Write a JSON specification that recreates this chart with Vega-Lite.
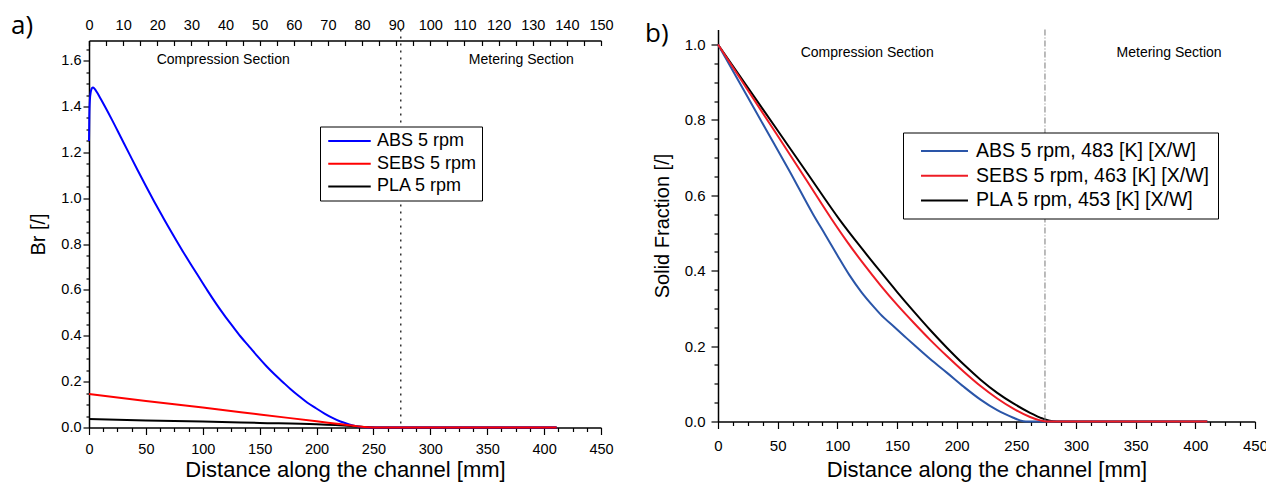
{
  "$schema": "https://vega.github.io/schema/vega-lite/v6.json",
  "padding": {"left": 11, "top": 12.5, "right": 0, "bottom": 14},
  "spacing": 31,
  "background": "white",
  "config": {
    "font": "Liberation Sans",
    "view": {"stroke": null},
    "text": {"font": "Liberation Sans"},
    "axis": {"grid": false, "domainColor": "black", "tickColor": "black", "labelColor": "black", "titleColor": "black", "labelFont": "Liberation Sans", "titleFont": "Liberation Sans", "titleFontWeight": "normal", "domainWidth": 1.5, "tickWidth": 1.2, "labelOverlap": false, "labelFlush": false},
    "legend": {"labelFont": "Liberation Sans", "labelColor": "black"}
  },
  "resolve": {"scale": {"color": "independent"}, "legend": {"color": "independent"}},
  "datasets": {
    "left": [
      {"d": 0, "v": 0.037, "s": "PLA 5 rpm"}, {"d": 50, "v": 0.031, "s": "PLA 5 rpm"}, {"d": 100, "v": 0.026, "s": "PLA 5 rpm"}, {"d": 150, "v": 0.02, "s": "PLA 5 rpm"}, {"d": 200, "v": 0.014, "s": "PLA 5 rpm"}, {"d": 230, "v": 0.007, "s": "PLA 5 rpm"}, {"d": 245, "v": 0.002, "s": "PLA 5 rpm"}, {"d": 255, "v": 0, "s": "PLA 5 rpm"}, {"d": 411, "v": 0, "s": "PLA 5 rpm"},
      {"d": 0, "v": 1.25, "s": "ABS 5 rpm"}, {"d": 0.3, "v": 1.36, "s": "ABS 5 rpm"}, {"d": 0.8, "v": 1.43, "s": "ABS 5 rpm"}, {"d": 1.6, "v": 1.465, "s": "ABS 5 rpm"}, {"d": 2.6, "v": 1.48, "s": "ABS 5 rpm"}, {"d": 3.5, "v": 1.483, "s": "ABS 5 rpm"}, {"d": 5, "v": 1.477, "s": "ABS 5 rpm"}, {"d": 7, "v": 1.462, "s": "ABS 5 rpm"}, {"d": 10, "v": 1.436, "s": "ABS 5 rpm"}, {"d": 14, "v": 1.4, "s": "ABS 5 rpm"}, {"d": 20, "v": 1.344, "s": "ABS 5 rpm"}, {"d": 28, "v": 1.266, "s": "ABS 5 rpm"}, {"d": 36, "v": 1.188, "s": "ABS 5 rpm"}, {"d": 43, "v": 1.12, "s": "ABS 5 rpm"}, {"d": 50, "v": 1.053, "s": "ABS 5 rpm"}, {"d": 57.5, "v": 0.984, "s": "ABS 5 rpm"}, {"d": 65, "v": 0.917, "s": "ABS 5 rpm"}, {"d": 70, "v": 0.873, "s": "ABS 5 rpm"}, {"d": 76, "v": 0.822, "s": "ABS 5 rpm"}, {"d": 82.5, "v": 0.768, "s": "ABS 5 rpm"}, {"d": 90, "v": 0.708, "s": "ABS 5 rpm"}, {"d": 97, "v": 0.653, "s": "ABS 5 rpm"}, {"d": 104, "v": 0.598, "s": "ABS 5 rpm"}, {"d": 112, "v": 0.538, "s": "ABS 5 rpm"}, {"d": 119, "v": 0.489, "s": "ABS 5 rpm"}, {"d": 126, "v": 0.443, "s": "ABS 5 rpm"}, {"d": 133, "v": 0.398, "s": "ABS 5 rpm"}, {"d": 141, "v": 0.352, "s": "ABS 5 rpm"}, {"d": 148, "v": 0.311, "s": "ABS 5 rpm"}, {"d": 156, "v": 0.267, "s": "ABS 5 rpm"}, {"d": 163, "v": 0.232, "s": "ABS 5 rpm"}, {"d": 170, "v": 0.2, "s": "ABS 5 rpm"}, {"d": 177, "v": 0.168, "s": "ABS 5 rpm"}, {"d": 185, "v": 0.135, "s": "ABS 5 rpm"}, {"d": 192, "v": 0.108, "s": "ABS 5 rpm"}, {"d": 199.5, "v": 0.084, "s": "ABS 5 rpm"}, {"d": 207, "v": 0.061, "s": "ABS 5 rpm"}, {"d": 214, "v": 0.042, "s": "ABS 5 rpm"}, {"d": 221, "v": 0.026, "s": "ABS 5 rpm"}, {"d": 228.7, "v": 0.0135, "s": "ABS 5 rpm"}, {"d": 234.6, "v": 0.006, "s": "ABS 5 rpm"}, {"d": 240, "v": 0.002, "s": "ABS 5 rpm"}, {"d": 246, "v": 0, "s": "ABS 5 rpm"}, {"d": 411, "v": 0, "s": "ABS 5 rpm"},
      {"d": 0, "v": 0.146, "s": "SEBS 5 rpm"}, {"d": 50, "v": 0.116, "s": "SEBS 5 rpm"}, {"d": 100, "v": 0.087, "s": "SEBS 5 rpm"}, {"d": 150, "v": 0.057, "s": "SEBS 5 rpm"}, {"d": 200, "v": 0.027, "s": "SEBS 5 rpm"}, {"d": 220, "v": 0.015, "s": "SEBS 5 rpm"}, {"d": 235, "v": 0.006, "s": "SEBS 5 rpm"}, {"d": 245, "v": 0.001, "s": "SEBS 5 rpm"}, {"d": 255, "v": 0, "s": "SEBS 5 rpm"}, {"d": 411, "v": 0, "s": "SEBS 5 rpm"}
    ],
    "right": [
      {"d": 0, "v": 1, "s": "PLA 5 rpm, 453 [K] [X/W]"}, {"d": 25, "v": 0.886, "s": "PLA 5 rpm, 453 [K] [X/W]"}, {"d": 50, "v": 0.772, "s": "PLA 5 rpm, 453 [K] [X/W]"}, {"d": 75, "v": 0.658, "s": "PLA 5 rpm, 453 [K] [X/W]"}, {"d": 102, "v": 0.535, "s": "PLA 5 rpm, 453 [K] [X/W]"}, {"d": 119, "v": 0.465, "s": "PLA 5 rpm, 453 [K] [X/W]"}, {"d": 136, "v": 0.398, "s": "PLA 5 rpm, 453 [K] [X/W]"}, {"d": 150, "v": 0.344, "s": "PLA 5 rpm, 453 [K] [X/W]"}, {"d": 164, "v": 0.292, "s": "PLA 5 rpm, 453 [K] [X/W]"}, {"d": 178, "v": 0.242, "s": "PLA 5 rpm, 453 [K] [X/W]"}, {"d": 192, "v": 0.195, "s": "PLA 5 rpm, 453 [K] [X/W]"}, {"d": 206, "v": 0.151, "s": "PLA 5 rpm, 453 [K] [X/W]"}, {"d": 220, "v": 0.111, "s": "PLA 5 rpm, 453 [K] [X/W]"}, {"d": 234, "v": 0.076, "s": "PLA 5 rpm, 453 [K] [X/W]"}, {"d": 247.5, "v": 0.048, "s": "PLA 5 rpm, 453 [K] [X/W]"}, {"d": 261.5, "v": 0.023, "s": "PLA 5 rpm, 453 [K] [X/W]"}, {"d": 272, "v": 0.008, "s": "PLA 5 rpm, 453 [K] [X/W]"}, {"d": 278, "v": 0.002, "s": "PLA 5 rpm, 453 [K] [X/W]"}, {"d": 284, "v": 0, "s": "PLA 5 rpm, 453 [K] [X/W]"}, {"d": 410, "v": 0, "s": "PLA 5 rpm, 453 [K] [X/W]"},
      {"d": 0, "v": 1, "s": "ABS 5 rpm, 483 [K] [X/W]"}, {"d": 20, "v": 0.888, "s": "ABS 5 rpm, 483 [K] [X/W]"}, {"d": 40, "v": 0.776, "s": "ABS 5 rpm, 483 [K] [X/W]"}, {"d": 60, "v": 0.664, "s": "ABS 5 rpm, 483 [K] [X/W]"}, {"d": 80, "v": 0.548, "s": "ABS 5 rpm, 483 [K] [X/W]"}, {"d": 90, "v": 0.495, "s": "ABS 5 rpm, 483 [K] [X/W]"}, {"d": 100, "v": 0.441, "s": "ABS 5 rpm, 483 [K] [X/W]"}, {"d": 110, "v": 0.389, "s": "ABS 5 rpm, 483 [K] [X/W]"}, {"d": 120, "v": 0.344, "s": "ABS 5 rpm, 483 [K] [X/W]"}, {"d": 130, "v": 0.306, "s": "ABS 5 rpm, 483 [K] [X/W]"}, {"d": 136, "v": 0.285, "s": "ABS 5 rpm, 483 [K] [X/W]"}, {"d": 148, "v": 0.25, "s": "ABS 5 rpm, 483 [K] [X/W]"}, {"d": 156, "v": 0.227, "s": "ABS 5 rpm, 483 [K] [X/W]"}, {"d": 164, "v": 0.204, "s": "ABS 5 rpm, 483 [K] [X/W]"}, {"d": 178, "v": 0.165, "s": "ABS 5 rpm, 483 [K] [X/W]"}, {"d": 192, "v": 0.129, "s": "ABS 5 rpm, 483 [K] [X/W]"}, {"d": 206, "v": 0.092, "s": "ABS 5 rpm, 483 [K] [X/W]"}, {"d": 220, "v": 0.058, "s": "ABS 5 rpm, 483 [K] [X/W]"}, {"d": 234, "v": 0.03, "s": "ABS 5 rpm, 483 [K] [X/W]"}, {"d": 247.5, "v": 0.01, "s": "ABS 5 rpm, 483 [K] [X/W]"}, {"d": 253, "v": 0.003, "s": "ABS 5 rpm, 483 [K] [X/W]"}, {"d": 258, "v": 0, "s": "ABS 5 rpm, 483 [K] [X/W]"}, {"d": 410, "v": 0, "s": "ABS 5 rpm, 483 [K] [X/W]"},
      {"d": 0, "v": 1, "s": "SEBS 5 rpm, 463 [K] [X/W]"}, {"d": 25, "v": 0.879, "s": "SEBS 5 rpm, 463 [K] [X/W]"}, {"d": 50, "v": 0.758, "s": "SEBS 5 rpm, 463 [K] [X/W]"}, {"d": 75, "v": 0.636, "s": "SEBS 5 rpm, 463 [K] [X/W]"}, {"d": 95, "v": 0.538, "s": "SEBS 5 rpm, 463 [K] [X/W]"}, {"d": 108, "v": 0.478, "s": "SEBS 5 rpm, 463 [K] [X/W]"}, {"d": 122, "v": 0.418, "s": "SEBS 5 rpm, 463 [K] [X/W]"}, {"d": 136, "v": 0.362, "s": "SEBS 5 rpm, 463 [K] [X/W]"}, {"d": 150, "v": 0.31, "s": "SEBS 5 rpm, 463 [K] [X/W]"}, {"d": 164, "v": 0.262, "s": "SEBS 5 rpm, 463 [K] [X/W]"}, {"d": 178, "v": 0.216, "s": "SEBS 5 rpm, 463 [K] [X/W]"}, {"d": 192, "v": 0.173, "s": "SEBS 5 rpm, 463 [K] [X/W]"}, {"d": 206, "v": 0.132, "s": "SEBS 5 rpm, 463 [K] [X/W]"}, {"d": 220, "v": 0.094, "s": "SEBS 5 rpm, 463 [K] [X/W]"}, {"d": 234, "v": 0.061, "s": "SEBS 5 rpm, 463 [K] [X/W]"}, {"d": 247.5, "v": 0.034, "s": "SEBS 5 rpm, 463 [K] [X/W]"}, {"d": 261.5, "v": 0.012, "s": "SEBS 5 rpm, 463 [K] [X/W]"}, {"d": 270, "v": 0.003, "s": "SEBS 5 rpm, 463 [K] [X/W]"}, {"d": 276, "v": 0, "s": "SEBS 5 rpm, 463 [K] [X/W]"}, {"d": 410, "v": 0, "s": "SEBS 5 rpm, 463 [K] [X/W]"}
    ],
    "leftText": [
      {"d": 118, "v": 1.603, "label": "Compression Section"},
      {"d": 380, "v": 1.603, "label": "Metering Section"}
    ],
    "rightText": [
      {"d": 125, "v": 0.978, "label": "Compression Section"},
      {"d": 378, "v": 0.978, "label": "Metering Section"}
    ],
    "boundary": [{"d": 274}]
  },
  "hconcat": [
    {
      "width": 512,
      "height": 398,
      "title": {"text": "a)", "anchor": "start", "frame": "group", "fontSize": 26, "font": "Open Sans", "fontWeight": "normal", "color": "black", "dx": -78, "dy": 25.5},
      "layer": [
        {
          "data": {"name": "left"},
          "mark": {"type": "line", "strokeWidth": 2, "interpolate": "monotone"},
          "encoding": {
            "x": {"field": "d", "type": "quantitative", "scale": {"domain": [0, 450], "nice": false},
              "axis": {"orient": "bottom", "values": [0, 12.5, 25, 37.5, 50, 62.5, 75, 87.5, 100, 112.5, 125, 137.5, 150, 162.5, 175, 187.5, 200, 212.5, 225, 237.5, 250, 262.5, 275, 287.5, 300, 312.5, 325, 337.5, 350, 362.5, 375, 387.5, 400, 412.5, 425, 437.5, 450],
                "labelExpr": "datum.value % 50 === 0 ? format(datum.value, 'd') : ''",
                "tickSize": {"condition": {"test": "datum.value % 50 === 0", "value": 7}, "value": 4},
                "labelFont": "Liberation Sans", "titleFont": "Liberation Sans",
                "labelFontSize": 14.5, "labelPadding": 8, "title": "Distance along the channel [mm]", "titleFontSize": 22, "titlePadding": 3}},
            "y": {"field": "v", "type": "quantitative", "scale": {"domain": [0, 1.688], "nice": false, "range": [398, 11]},
              "axis": {"orient": "left", "values": [0, 0.05, 0.1, 0.15, 0.2, 0.25, 0.3, 0.35, 0.4, 0.45, 0.5, 0.55, 0.6, 0.65, 0.7, 0.75, 0.8, 0.85, 0.9, 0.95, 1.0, 1.05, 1.1, 1.15, 1.2, 1.25, 1.3, 1.35, 1.4, 1.45, 1.5, 1.55, 1.6, 1.65],
                "labelExpr": "abs(datum.value / 0.2 - round(datum.value / 0.2)) < 0.001 ? format(datum.value, '.1f') : ''",
                "tickSize": {"condition": {"test": "abs(datum.value / 0.2 - round(datum.value / 0.2)) < 0.001", "value": 6}, "value": 3},
                "labelFont": "Liberation Sans", "titleFont": "Liberation Sans",
                "labelFontSize": 14.5, "labelPadding": 2, "title": "Br [/]", "titleFontSize": 20, "titlePadding": 12}},
            "color": {"field": "s", "type": "nominal",
              "scale": {"domain": ["ABS 5 rpm", "SEBS 5 rpm", "PLA 5 rpm"], "range": ["#0000ff", "#ff0000", "#000000"]},
              "legend": {"orient": "none", "legendX": 231, "legendY": 97, "title": null, "strokeColor": "black", "fillColor": "white", "padding": 5, "symbolType": "M-2.5,0H2.5", "symbolSize": 289, "symbolStrokeWidth": 2, "symbolOffset": 15, "labelFont": "Liberation Sans", "labelFontSize": 18, "rowPadding": 3.7, "labelOffset": 18}}
          }
        },
        {
          "data": {"name": "boundary"},
          "mark": {"type": "rule", "strokeDash": [2, 5], "color": "#333333", "strokeWidth": 1.5},
          "encoding": {
            "x": {"field": "d", "type": "quantitative",
              "axis": {"orient": "top", "offset": -11, "values": [0, 15, 30, 45, 60, 75, 90, 105, 120, 135, 150, 165, 180, 195, 210, 225, 240, 255, 270, 285, 300, 315, 330, 345, 360, 375, 390, 405, 420, 435, 450],
                "labelExpr": "datum.value % 30 === 0 ? format(datum.value / 3, 'd') : ''",
                "labelFont": "Liberation Sans",
                "tickSize": -5, "labelPadding": 13, "labelFontSize": 14.5, "title": null}}
          }
        },
        {
          "data": {"name": "leftText"},
          "mark": {"type": "text", "fontSize": 14, "color": "black", "font": "Liberation Sans"},
          "encoding": {
            "x": {"field": "d", "type": "quantitative", "axis": null},
            "y": {"field": "v", "type": "quantitative", "axis": null},
            "text": {"field": "label"}
          }
        }
      ],
      "resolve": {"axis": {"x": "independent", "y": "independent"}}
    },
    {
      "width": 537,
      "height": 392,
      "title": {"text": "b)", "anchor": "start", "frame": "group", "fontSize": 26, "font": "Open Sans", "fontWeight": "normal", "color": "black", "dx": -73, "dy": 22},
      "layer": [
        {
          "data": {"name": "right"},
          "mark": {"type": "line", "strokeWidth": 2, "interpolate": "monotone"},
          "encoding": {
            "x": {"field": "d", "type": "quantitative", "scale": {"domain": [0, 450], "nice": false},
              "axis": {"orient": "bottom", "values": [0, 12.5, 25, 37.5, 50, 62.5, 75, 87.5, 100, 112.5, 125, 137.5, 150, 162.5, 175, 187.5, 200, 212.5, 225, 237.5, 250, 262.5, 275, 287.5, 300, 312.5, 325, 337.5, 350, 362.5, 375, 387.5, 400, 412.5, 425, 437.5, 450],
                "labelExpr": "datum.value % 50 === 0 ? format(datum.value, 'd') : ''",
                "tickSize": {"condition": {"test": "datum.value % 50 === 0", "value": 7}, "value": 4},
                "labelFont": "Liberation Sans", "titleFont": "Liberation Sans",
                "labelFontSize": 15, "labelPadding": 10, "title": "Distance along the channel [mm]", "titleFontSize": 22, "titlePadding": 6}},
            "y": {"field": "v", "type": "quantitative", "scale": {"domain": [0, 1.04], "nice": false},
              "axis": {"orient": "left", "values": [0, 0.05, 0.1, 0.15, 0.2, 0.25, 0.3, 0.35, 0.4, 0.45, 0.5, 0.55, 0.6, 0.65, 0.7, 0.75, 0.8, 0.85, 0.9, 0.95, 1.0],
                "labelExpr": "abs(datum.value / 0.2 - round(datum.value / 0.2)) < 0.001 ? format(datum.value, '.1f') : ''",
                "tickSize": {"condition": {"test": "abs(datum.value / 0.2 - round(datum.value / 0.2)) < 0.001", "value": 7}, "value": 4},
                "labelFont": "Liberation Sans", "titleFont": "Liberation Sans",
                "labelFontSize": 15, "labelPadding": 6, "title": "Solid Fraction [/]", "titleFontSize": 20, "titlePadding": 12}},
            "color": {"field": "s", "type": "nominal",
              "scale": {"domain": ["ABS 5 rpm, 483 [K] [X/W]", "SEBS 5 rpm, 463 [K] [X/W]", "PLA 5 rpm, 453 [K] [X/W]"], "range": ["#2a55a8", "#ee1c25", "#000000"]},
              "legend": {"orient": "none", "legendX": 185, "legendY": 103, "title": null, "strokeColor": "black", "fillColor": "white", "padding": 8, "symbolType": "M-2.5,0H2.5", "symbolSize": 353, "symbolStrokeWidth": 2, "symbolOffset": 23, "labelFont": "Liberation Sans", "labelFontSize": 19.5, "labelLimit": 400, "rowPadding": 4.7, "labelOffset": 21}}
          }
        },
        {
          "data": {"name": "boundary"},
          "mark": {"type": "rule", "strokeDash": [6, 2, 1, 2], "color": "#777777", "strokeWidth": 1},
          "encoding": {
            "x": {"field": "d", "type": "quantitative", "axis": null}
          }
        },
        {
          "data": {"name": "rightText"},
          "mark": {"type": "text", "fontSize": 14, "color": "black", "font": "Liberation Sans"},
          "encoding": {
            "x": {"field": "d", "type": "quantitative", "axis": null},
            "y": {"field": "v", "type": "quantitative", "axis": null},
            "text": {"field": "label"}
          }
        }
      ],
      "resolve": {"axis": {"x": "independent", "y": "independent"}}
    }
  ]
}
